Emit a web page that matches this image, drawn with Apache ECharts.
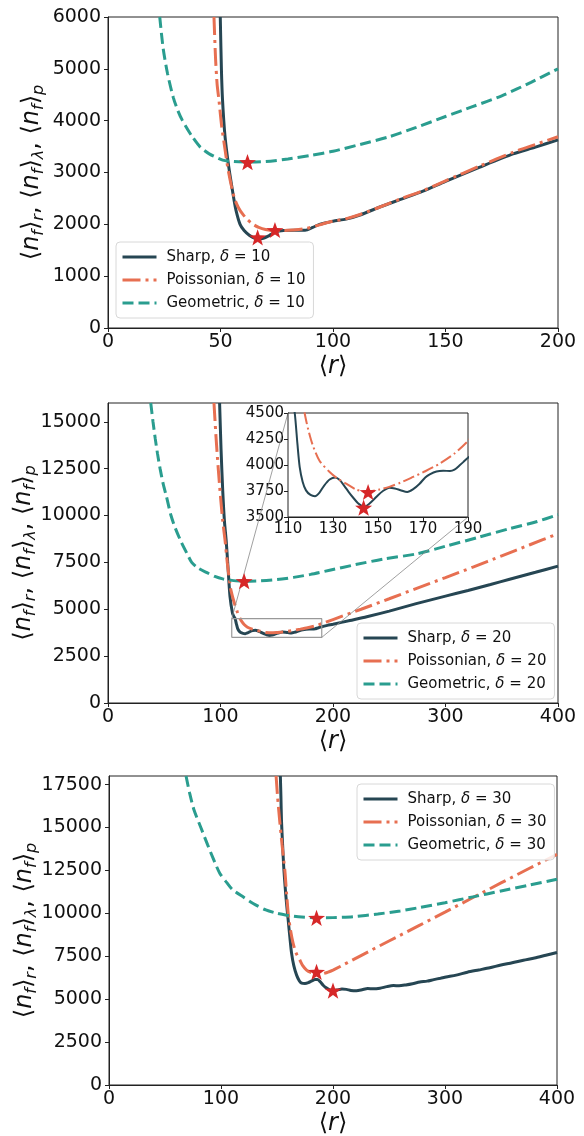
<!DOCTYPE html>
<html>
<head>
<meta charset="utf-8">
<script src="https://cdn.jsdelivr.net/npm/echarts@6/dist/echarts.min.js"></script>
<style>
  html, body { margin: 0; background: #fff; }
  #chart { width: 584px; height: 1136px; }
</style>
</head>
<body>
<div id="chart"></div>
<script>
// ---- data ----
// delta = 10
var sharp10 = [[49.9,6000],[50.4,5000],[50.9,4400],[52,3700],[53.7,3100],[55.9,2500],[57,2250],[58.7,2000],[60.5,1880],[62.8,1790],[65,1735],[67,1720],[69,1730],[71.5,1780],[74.4,1850],[78,1880],[83,1885],[87.6,1884],[91,1940],[94,2000],[100,2060],[105.8,2100],[112,2180],[120,2320],[130,2480],[140,2640],[150,2830],[165,3100],[180,3360],[190,3490],[200,3630]];
var poisson10 = [[47.1,6000],[47.8,5200],[48.5,4700],[49.3,4400],[50.5,3900],[52,3450],[53.2,3100],[54.8,2750],[56.2,2500],[58,2320],[59.8,2200],[62,2090],[64.5,2000],[67,1940],[70,1900],[74,1880],[78,1880],[82,1890],[88,1920],[94,1990],[100,2060],[106,2110],[112,2190],[120,2320],[130,2490],[140,2650],[150,2840],[165,3120],[180,3390],[190,3540],[200,3690]];
var geometric10 = [[23,6000],[24.5,5400],[26.5,4900],[29,4450],[31,4200],[33,4010],[37,3720],[41,3490],[45,3360],[51,3240],[56,3210],[62,3200],[70,3210],[80,3260],[90,3330],[100,3410],[112,3540],[125,3690],[137,3870],[150,4080],[162,4270],[175,4480],[188,4740],[200,5000]];
var stars10 = [[62,3200],[66.5,1750],[74.2,1890]];

// delta = 20
var sharp20 = [[99.2,16000],[100.5,13500],[102,11300],[103.5,9700],[105,8700],[106.5,7400],[108.4,5700],[110.7,4780],[112,4600],[113,4500],[114.2,4200],[115.2,3980],[116.5,3840],[118,3756],[120,3712],[122,3700],[124,3735],[126,3800],[128.5,3860],[131,3880],[133,3855],[135,3800],[137,3740],[139,3685],[141,3635],[142.6,3610],[144,3600],[146,3625],[148,3665],[150,3710],[152.2,3750],[155,3782],[157.5,3775],[160,3758],[163,3740],[165.5,3765],[168.5,3820],[171,3880],[173,3910],[176,3938],[179,3945],[182,3942],[184,3955],[186.3,3997],[188,4030],[190,4070],[195,4140],[200,4200],[215,4400],[230,4600],[250,4900],[274,5300],[300,5700],[320,6000],[340,6320],[357,6600],[380,6970],[400,7300]];
var poisson20 = [[94.2,16000],[96,14200],[98,12500],[100,11000],[102,9700],[104,8700],[106,7500],[107.4,6800],[109,6100],[111,5600],[113,5200],[115,4850],[117.4,4500],[119,4340],[121,4190],[124,4040],[128.5,3933],[132,3870],[135.9,3820],[140.4,3763],[145,3742],[150.7,3765],[155,3790],[160,3830],[165.6,3885],[171,3940],[177.4,4013],[184,4110],[190,4231],[200,4450],[225,5000],[250,5560],[275,6130],[300,6690],[325,7260],[350,7850],[375,8440],[400,9030]];
var geometric20 = [[38,16000],[40,15000],[42,14100],[44,13300],[46.3,12500],[49,11700],[52,11000],[56,10000],[60,9300],[65,8600],[70,8000],[74.4,7500],[80,7200],[88,6950],[95,6750],[102,6620],[110,6540],[122,6490],[135,6510],[150,6580],[165,6700],[180,6860],[197,7080],[220,7380],[245,7680],[274,7950],[300,8360],[330,8850],[357,9300],[380,9650],[400,10050]];
var stars20 = [[121,6500]];
var stars20Inset = [[143.6,3590],[145.6,3740]];

// delta = 30
var sharp30 = [[153,18000],[153.5,16800],[154,15400],[155,14000],[156,12700],[157.2,11600],[158.5,10575],[160,9600],[161.5,8600],[163,7680],[165,6950],[167.5,6400],[170,6060],[172,5930],[175,5910],[178,5960],[181,6060],[184,6140],[186,6140],[188.5,6020],[191,5830],[193.5,5680],[196.5,5560],[200,5490],[204,5540],[208,5590],[212,5570],[216,5510],[221,5490],[226,5550],[231,5625],[236,5600],[242,5640],[248,5730],[254,5790],[259,5780],[265,5830],[271,5900],[277.5,6000],[284,6050],[290,6140],[296,6220],[301,6290],[310,6400],[320,6570],[330,6700],[340,6830],[350,6990],[360,7120],[370,7270],[380,7400],[390,7560],[400,7720]];
var poisson30 = [[149.2,18000],[150.5,16800],[152.4,15400],[154.5,14000],[157,12500],[158.5,11200],[160,10000],[162,9050],[164.4,8250],[167,7700],[170.4,7280],[173,6950],[176.4,6690],[180,6560],[185,6500],[190,6480],[195,6560],[200,6690],[225,7540],[250,8390],[277.5,9310],[300,10070],[325,10920],[350,11770],[375,12610],[400,13430]];
var geometric30 = [[68.8,18000],[72,17000],[76,16000],[82,15000],[88,14000],[93,13200],[99,12320],[105,11800],[110,11400],[120,10950],[128.7,10575],[140,10200],[150,10000],[158.5,9893],[172,9780],[185,9740],[200,9750],[218,9800],[240,9960],[260,10140],[277.5,10340],[300,10620],[325,10960],[350,11300],[375,11640],[400,11990]];
var stars30 = [[185.3,9740],[185.3,6590],[200,5500]];

// axis ranges [min, max, interval]
var xRange1 = [0, 200, 50], yRange1 = [0, 6000, 1000];
var xRange2 = [0, 400, 100], yRange2 = [0, 16000, 2500];
var xRange3 = [0, 400, 100], yRange3 = [0, 18000, 2500];
var xRangeIn = [110, 190, 20], yRangeIn = [3500, 4500, 250];
var zoomBox = [[110,3500],[190,3500],[190,4500],[110,4500],[110,3500]];

var FONT = 'DejaVu Sans';
var C_SHARP = '#264653', C_POIS = '#e76f51', C_GEO = '#2a9d8f', C_STAR = '#d62728';
var STAR = 'path://M0,-10L2.35,-3.24L9.51,-3.09L3.8,1.24L5.88,8.09L0,4.1L-5.88,8.09L-3.8,1.24L-9.51,-3.09L-2.35,-3.24Z';

var chart = echarts.init(document.getElementById('chart'));

function lineSeries(name, data, kind, idx, w, dashes) {
  var color = kind === 'sharp' ? C_SHARP : (kind === 'pois' ? C_POIS : C_GEO);
  return {
    type: 'line', name: name, data: data, xAxisIndex: idx, yAxisIndex: idx,
    symbol: 'none', showSymbol: false, smooth: 0.25, clip: true,
    lineStyle: { color: color, width: w, type: dashes || 'solid', cap: 'butt' },
    itemStyle: { color: color }, silent: true
  };
}

function starSeries(data, idx, size) {
  return {
    type: 'scatter', data: data, xAxisIndex: idx, yAxisIndex: idx,
    symbol: STAR, symbolSize: size, symbolKeepAspect: true,
    itemStyle: { color: C_STAR, opacity: 1 }, z: 5, silent: true
  };
}

var richName = {
  b: { fontSize: 24, fontFamily: FONT, color: '#111' },
  i: { fontSize: 24, fontFamily: FONT, fontStyle: 'italic', color: '#111' },
  s: { fontSize: 16, fontFamily: FONT, fontStyle: 'italic', color: '#111', padding: [14, 0, 0, 0] }
};
var yName = '{b|⟨}{i|n}{s|f}{b|⟩}{s|r}{b|, ⟨}{i|n}{s|f}{b|⟩}{s|λ}{b|, ⟨}{i|n}{s|f}{b|⟩}{s|p}';
var xName = '{b|⟨}{i|r}{b|⟩}';

function plain(v) { return String(v); }

function xAxis(gi, r, fs, withName) {
  var a = {
    type: 'value', gridIndex: gi, min: r[0], max: r[1], interval: r[2],
    axisLine: { show: true, onZero: false, lineStyle: { color: '#222', width: 1 } },
    axisTick: { show: true, length: 4, lineStyle: { color: '#222' } },
    axisLabel: { fontSize: fs, fontFamily: FONT, color: '#111', margin: 5, formatter: plain },
    splitLine: { show: false }
  };
  if (withName) {
    a.name = xName; a.nameLocation = 'middle'; a.nameGap = 27; a.nameMoveOverlap = false;
    a.nameTextStyle = { rich: richName };
  }
  return a;
}

function yAxis(gi, r, fs, gap, hideMax) {
  var a = {
    type: 'value', gridIndex: gi, min: r[0], max: r[1], interval: r[2],
    axisLine: { show: true, lineStyle: { color: '#222', width: 1 } },
    axisTick: { show: true, length: 4, lineStyle: { color: '#222' } },
    axisLabel: { fontSize: fs, fontFamily: FONT, color: '#111', margin: gi === 3 ? 4 : 7, showMaxLabel: !hideMax, formatter: plain },
    splitLine: { show: false }
  };
  if (gap) {
    a.name = yName; a.nameLocation = 'middle'; a.nameGap = gap; a.nameRotate = 90; a.nameMoveOverlap = false;
    a.nameTextStyle = { rich: richName };
  }
  return a;
}

function legend(names, left, top) {
  return {
    data: names, orient: 'vertical', left: left, top: top,
    itemWidth: 34, itemHeight: 14, itemGap: 7, padding: [7, 8, 7, 5],
    backgroundColor: 'rgba(255,255,255,0.85)', borderColor: '#d8d8d8', borderWidth: 1, borderRadius: 4,
    selectedMode: false,
    itemStyle: { opacity: 0 },
    lineStyle: { width: 3 },
    textStyle: {
      fontFamily: FONT, fontSize: 15, color: '#111', lineHeight: 16, padding: [0, 0, 0, 5],
      rich: { d: { fontFamily: FONT, fontSize: 15, fontStyle: 'italic', color: '#111', lineHeight: 16 } }
    },
    formatter: function (n) { return n.replace('δ', '{d|δ}'); }
  };
}

var gridBox = { show: true, borderColor: '#222', borderWidth: 1, backgroundColor: 'transparent', outerBoundsMode: 'none', containLabel: false };

var option = {
  animation: false,
  backgroundColor: '#fff',
  grid: [
    Object.assign({ left: 108, top: 17, width: 450, height: 311 }, gridBox),
    Object.assign({ left: 108, top: 403, width: 450, height: 300 }, gridBox),
    Object.assign({ left: 109, top: 776, width: 448, height: 309 }, gridBox),
    Object.assign({ left: 288, top: 413, width: 180, height: 104 }, gridBox, { backgroundColor: '#fff', z: 6 })
  ],
  xAxis: [xAxis(0, xRange1, 19, true), xAxis(1, xRange2, 19, true), xAxis(2, xRange3, 19, true), xAxis(3, xRangeIn, 15, false)],
  yAxis: [yAxis(0, yRange1, 19, 61, false), yAxis(1, yRange2, 19, 69, true), yAxis(2, yRange3, 19, 69, true), yAxis(3, yRangeIn, 15, 0, false)],
  legend: [
    legend(['Sharp, δ = 10', 'Poissonian, δ = 10', 'Geometric, δ = 10'], 116, 242),
    legend(['Sharp, δ = 20', 'Poissonian, δ = 20', 'Geometric, δ = 20'], 357, 623),
    legend(['Sharp, δ = 30', 'Poissonian, δ = 30', 'Geometric, δ = 30'], 357, 784)
  ],
  series: [
    lineSeries('Sharp, δ = 10', sharp10, 'sharp', 0, 3),
    lineSeries('Poissonian, δ = 10', poisson10, 'pois', 0, 3, [18, 5, 3, 5]),
    lineSeries('Geometric, δ = 10', geometric10, 'geo', 0, 3, [11, 5]),
    starSeries(stars10, 0, 17),

    lineSeries('Sharp, δ = 20', sharp20, 'sharp', 1, 3),
    lineSeries('Poissonian, δ = 20', poisson20, 'pois', 1, 3, [18, 5, 3, 5]),
    lineSeries('Geometric, δ = 20', geometric20, 'geo', 1, 3, [11, 5]),
    { type: 'line', data: zoomBox, xAxisIndex: 1, yAxisIndex: 1, symbol: 'none', silent: true,
      lineStyle: { color: '#999', width: 1.2 }, z: 4 },
    starSeries(stars20, 1, 17),

    lineSeries('Sharp, δ = 30', sharp30, 'sharp', 2, 3),
    lineSeries('Poissonian, δ = 30', poisson30, 'pois', 2, 3, [18, 5, 3, 5]),
    lineSeries('Geometric, δ = 30', geometric30, 'geo', 2, 3, [11, 5]),
    starSeries(stars30, 2, 17),

    Object.assign(lineSeries('inset sharp', sharp20, 'sharp', 3, 2), { z: 7 }),
    Object.assign(lineSeries('inset poisson', poisson20, 'pois', 3, 2, [12, 3.5, 2, 3.5]), { z: 7 }),
    Object.assign(starSeries(stars20Inset, 3, 17), { z: 8 })
  ]
};

chart.setOption(option);

// connector lines between the zoom box and the inset, placed through the axes
var a1 = chart.convertToPixel({ xAxisIndex: 1, yAxisIndex: 1 }, [110, 4500]);
var b1 = chart.convertToPixel({ xAxisIndex: 3, yAxisIndex: 3 }, [110, 4500]);
var a2 = chart.convertToPixel({ xAxisIndex: 1, yAxisIndex: 1 }, [190, 3500]);
var b2 = chart.convertToPixel({ xAxisIndex: 3, yAxisIndex: 3 }, [190, 3500]);
chart.setOption({
  graphic: [
    { type: 'line', z: 5, shape: { x1: a1[0], y1: a1[1], x2: b1[0], y2: b1[1] }, style: { stroke: '#888', lineWidth: 0.8 } },
    { type: 'line', z: 5, shape: { x1: a2[0], y1: a2[1], x2: b2[0], y2: b2[1] }, style: { stroke: '#888', lineWidth: 0.8 } }
  ]
});
</script>
</body>
</html>
